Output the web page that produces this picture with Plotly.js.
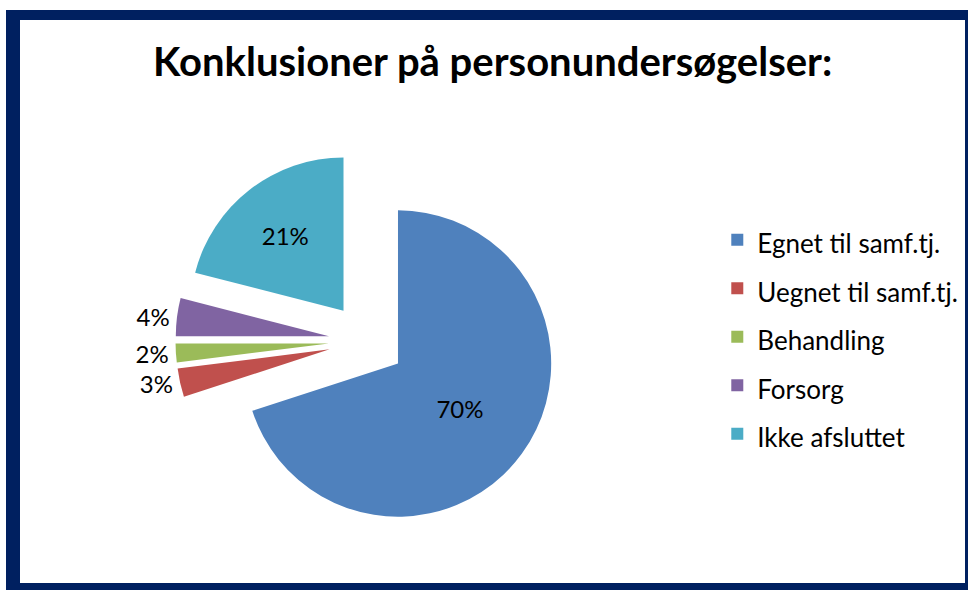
<!DOCTYPE html>
<html>
<head>
<meta charset="utf-8">
<script src="https://cdn.plot.ly/plotly-3.0.1.min.js"></script>
<style>
html,body{margin:0;padding:0;background:#fff;}
#chart{width:968px;height:590px;}
</style>
</head>
<body>
<div id="chart"></div>
<script>
const categories = ["Egnet til samf.tj.", "Uegnet til samf.tj.", "Behandling", "Forsorg", "Ikke afsluttet"];
const values = [70, 3, 2, 4, 21];
const colors = ["#4F81BD", "#C0504D", "#9BBB59", "#8064A2", "#4BACC6"];
const titleText = "Konklusioner på personundersøgelser:";

const FONT = "Lato, 'Liberation Sans', sans-serif";
const navy = "#002060";

const trace = {
  type: "pie",
  labels: categories.map(c => '<span style="font-size:26px">' + c + '</span>'),
  values: values,
  sort: false,
  direction: "clockwise",
  rotation: 0,
  pull: 0.25,
  marker: {colors: colors, line: {width: 0}},
  textinfo: "percent",
  textposition: ["inside", "outside", "outside", "outside", "inside"],
  insidetextorientation: "horizontal",
  textfont: {family: FONT, size: 24, color: "#000"},
  outsidetextfont: {family: FONT, size: 24, color: "#000"},
  domain: {x: [175.5/968, 558.5/968], y: [57.5/590, 440.5/590]},
  hoverinfo: "label+percent"
};

const layout = {
  width: 968, height: 590,
  margin: {l: 0, r: 0, t: 0, b: 0},
  paper_bgcolor: "#fff",
  title: {
    text: "<b>" + titleText + "</b>",
    font: {family: FONT, size: 40, color: "#000"},
    x: 0.509, xanchor: "center",
    y: 1 - 62/590, yanchor: "middle", yref: "container"
  },
  showlegend: true,
  legend: {
    x: 0.741, xanchor: "left",
    y: 1 - 337/590, yanchor: "middle",
    itemwidth: 30,
    font: {family: FONT, size: 35, color: "#000"},
    bgcolor: "rgba(0,0,0,0)"
  },
  shapes: [
    {type: "rect", xref: "paper", yref: "paper", x0: 6/968, x1: 20/968, y0: 0, y1: 1 - 10/590, fillcolor: navy, line: {width: 0}, layer: "above"},
    {type: "rect", xref: "paper", yref: "paper", x0: 6/968, x1: 1, y0: 1 - 10/590, y1: 1 - 20/590, fillcolor: navy, line: {width: 0}, layer: "above"},
    {type: "rect", xref: "paper", yref: "paper", x0: 6/968, x1: 1, y0: 0, y1: 7/590, fillcolor: navy, line: {width: 0}, layer: "above"},
    {type: "rect", xref: "paper", yref: "paper", x0: 965/968, x1: 1, y0: 0, y1: 1 - 10/590, fillcolor: navy, line: {width: 0}, layer: "above"}
  ]
};

Plotly.newPlot("chart", [trace], layout, {displayModeBar: false, staticPlot: true});
</script>
</body>
</html>
